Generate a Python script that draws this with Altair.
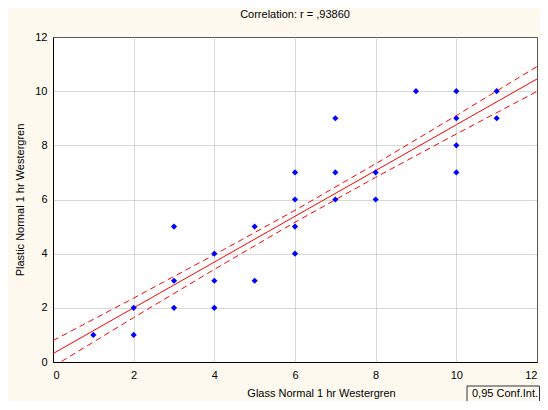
import altair as alt
import pandas as pd

# Scatter data (Glass vs Plastic, Westergren 1 hr)
glass = [1, 2, 2, 3, 3, 3, 4, 4, 4, 5, 5, 6, 6, 6, 6, 7, 7, 7, 8, 8, 9, 10, 10, 10, 10, 11, 11]
plastic = [1, 2, 1, 5, 3, 2, 4, 3, 2, 5, 3, 7, 6, 5, 4, 9, 7, 6, 7, 6, 10, 10, 9, 8, 7, 10, 9]

# Regression line and 0.95 confidence band
fit_x = [0, 2, 4, 6, 8, 10, 12]
fit_y = [0.31, 2.00, 3.69, 5.38, 7.07, 8.76, 10.45]
ci_upper = [0.79, 2.36, 3.96, 5.60, 7.32, 9.10, 10.91]
ci_lower = [-0.17, 1.64, 3.42, 5.16, 6.82, 8.42, 9.99]

ticks = [0, 2, 4, 6, 8, 10, 12]
title_text = "Correlation: r = ,93860"
x_title = "Glass Normal 1 hr Westergren"
y_title = "Plastic Normal 1 hr Westergren"
box_text = "0,95 Conf.Int."

FONT = "Liberation Sans"
BG = "#fdf9ef"
W, H = 484, 325

pts = pd.DataFrame({"x": glass, "y": plastic})
fit = pd.DataFrame({"x": fit_x, "fit": fit_y, "upper": ci_upper, "lower": ci_lower})

xs = alt.Scale(domain=[0, 12], nice=False, zero=False)
ys = alt.Scale(domain=[0, 12], nice=False, zero=False)

xax = alt.Axis(values=ticks, title=x_title, grid=True, ticks=False, labelPadding=7,
               titleX=268, titleY=31, titleBaseline="middle", titleAlign="center")
yax = alt.Axis(values=ticks, title=y_title, grid=True, ticks=False, labelPadding=6,
               titleX=-33, titleY=H / 2, titleAngle=-90, titleBaseline="middle", titleAlign="center")

base_fit = alt.Chart(fit)

upper = base_fit.mark_line(color="#ff0000", strokeDash=[6, 4], strokeWidth=1, clip=True).encode(
    x=alt.X("x:Q", scale=xs, axis=xax), y=alt.Y("upper:Q", scale=ys, axis=yax))
lower = base_fit.mark_line(color="#ff0000", strokeDash=[6, 4], strokeWidth=1, clip=True).encode(
    x=alt.X("x:Q", scale=xs), y=alt.Y("lower:Q", scale=ys))
line = base_fit.mark_line(color="#ff0000", strokeWidth=1, clip=True).encode(
    x=alt.X("x:Q", scale=xs), y=alt.Y("fit:Q", scale=ys))

points = alt.Chart(pts).mark_point(shape="diamond", filled=True, color="#0000ff", size=38, opacity=1).encode(
    x=alt.X("x:Q", scale=xs), y=alt.Y("y:Q", scale=ys))

lab = pd.DataFrame({"t": [box_text]})
box = alt.Chart(lab).mark_rect(fill=BG, stroke="#333333", strokeWidth=1, clip=False).encode(
    x=alt.value(414), x2=alt.value(W + 2.5), y=alt.value(H + 24), y2=alt.value(H + 45))
boxtxt = alt.Chart(lab).mark_text(align="left", baseline="middle", font=FONT, fontSize=11,
                                  color="#000000", clip=False).encode(
    x=alt.value(419), y=alt.value(H + 32), text="t:N")

chart = alt.layer(upper, lower, line, points, box, boxtxt).properties(
    width=W, height=H,
    title=alt.TitleParams(title_text, font=FONT, fontSize=11, fontWeight="normal",
                          color="#000000", anchor="middle", offset=11),
    background=BG,
    padding={"left": 45, "top": 29, "right": 3, "bottom": 39},
    autosize=alt.AutoSizeParams(type="none"),
).configure_view(
    fill="#ffffff", stroke="#000000", strokeWidth=1
).configure_axis(
    labelFont=FONT, labelFontSize=11, labelColor="#000000",
    titleFont=FONT, titleFontSize=11, titleFontWeight="normal", titleColor="#000000",
    domainColor="#000000", domainWidth=1,
    gridColor="#b0b0b0", gridDash=[1, 1], gridWidth=1,
)

chart.save("out.html", embed_options={"renderer": "svg", "actions": False})
